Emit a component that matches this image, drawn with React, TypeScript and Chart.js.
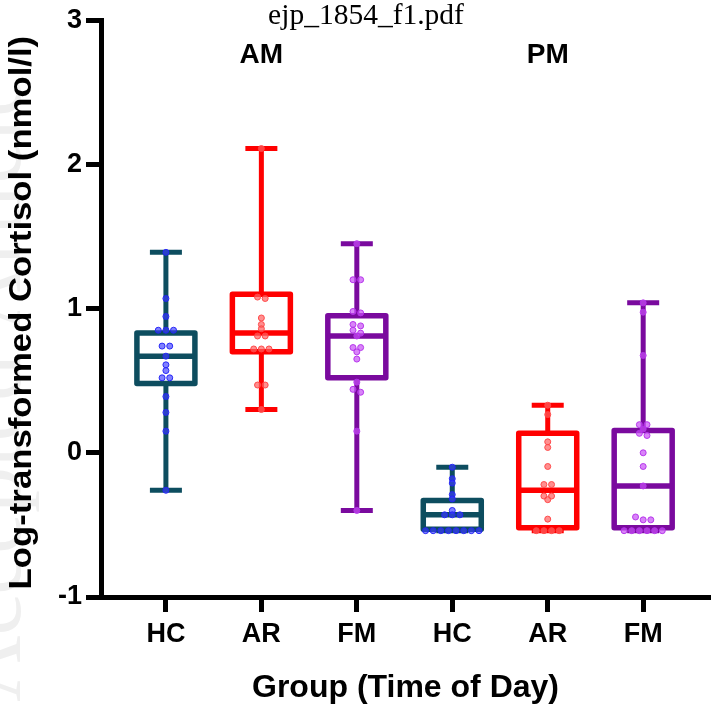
import { useEffect, useRef } from "react";
import { Chart, registerables } from "chart.js";

Chart.register(...registerables);

// ---- data ----
const groupLabels = ["HC", "AR", "FM", "HC", "AR", "FM"];
const timeLabels = ["AM", "PM"];
const yTickValues = [-1, 0, 1, 2, 3];

const whiskerMin = [-0.26, 0.3, -0.4, -0.54, -0.54, -0.54];
const quartile1 = [0.48, 0.7, 0.52, -0.53, -0.52, -0.52];
const medians = [0.67, 0.83, 0.81, -0.43, -0.26, -0.23];
const quartile3 = [0.83, 1.1, 0.95, -0.33, 0.135, 0.155];
const whiskerMax = [1.39, 2.11, 1.45, -0.1, 0.33, 1.04];

const amHC = [1.39, 1.07, 0.945, 0.85, 0.85, 0.85, 0.74, 0.74, 0.67, 0.61, 0.57, 0.52, 0.52, 0.39, 0.28, 0.15, -0.26];
const amAR = [2.11, 1.08, 1.07, 0.935, 0.89, 0.86, 0.81, 0.81, 0.72, 0.72, 0.72, 0.47, 0.47, 0.3];
const amFM = [1.45, 1.2, 1.2, 0.98, 0.97, 0.89, 0.88, 0.85, 0.83, 0.81, 0.73, 0.73, 0.7, 0.65, 0.49, 0.44, 0.42, 0.15, -0.4];
const pmHC = [-0.1, -0.18, -0.21, -0.29, -0.32, -0.4, -0.43, -0.43, -0.43, -0.54, -0.54, -0.54, -0.54, -0.54, -0.54, -0.54, -0.54];
const pmAR = [0.33, 0.265, 0.076, 0.037, -0.095, -0.22, -0.22, -0.3, -0.3, -0.325, -0.46, -0.54, -0.54, -0.54, -0.54];
const pmFM = [1.04, 0.975, 0.675, 0.195, 0.195, 0.165, 0.135, 0.12, 0.0, -0.095, -0.23, -0.445, -0.465, -0.465, -0.54, -0.54, -0.54, -0.54, -0.54, -0.54];

const groupPoints = [amHC, amAR, amFM, pmHC, pmAR, pmFM];

// ---- styles ----
const lineColors = ["#0d4d5f", "#ff0000", "#7a0a9e", "#0d4d5f", "#ff0000", "#7a0a9e"];
const dotFill = ["rgba(60,60,255,0.65)", "rgba(255,95,95,0.7)", "rgba(200,80,245,0.7)", "rgba(60,60,255,0.65)", "rgba(255,95,95,0.7)", "rgba(200,80,245,0.7)"];
const dotStroke = ["rgba(35,35,245,0.95)", "rgba(255,70,70,0.95)", "rgba(180,50,235,0.95)", "rgba(35,35,245,0.95)", "rgba(255,70,70,0.95)", "rgba(180,50,235,0.95)"];
const SANS = '"Liberation Sans", Arial, Helvetica, sans-serif';

// spread tied values horizontally (beeswarm-like), in axis units
function swarm(vals: number[], center: number) {
  const sorted = [...vals].sort((a, b) => b - a);
  const out: { x: number; y: number }[] = [];
  let i = 0;
  while (i < sorted.length) {
    let j = i;
    while (j + 1 < sorted.length && sorted[i] - sorted[j + 1] < 0.025) j++;
    const n = j - i + 1;
    for (let k = 0; k < n; k++) {
      out.push({ x: center + (k - (n - 1) / 2) * 0.08, y: sorted[i + k] });
    }
    i = j + 1;
  }
  return out;
}

const boxPlugin = {
  id: "boxes",
  beforeDatasetsDraw(chart: any) {
    const { ctx, scales } = chart;
    const x = scales.x;
    const y = scales.y;
    ctx.save();
    for (let i = 0; i < groupLabels.length; i++) {
      const cx = x.getPixelForValue(i + 1);
      const hw = 29;
      const cw = 16;
      const pMin = y.getPixelForValue(whiskerMin[i]);
      const pMax = y.getPixelForValue(whiskerMax[i]);
      const pQ1 = y.getPixelForValue(quartile1[i]);
      const pQ3 = y.getPixelForValue(quartile3[i]);
      const pMed = y.getPixelForValue(medians[i]);
      ctx.strokeStyle = lineColors[i];
      ctx.lineCap = "butt";
      ctx.lineWidth = 5;
      ctx.beginPath();
      ctx.moveTo(cx, pQ3);
      ctx.lineTo(cx, pMax);
      ctx.moveTo(cx, pQ1);
      ctx.lineTo(cx, pMin);
      ctx.stroke();
      ctx.beginPath();
      ctx.moveTo(cx - cw, pMax);
      ctx.lineTo(cx + cw, pMax);
      ctx.moveTo(cx - cw, pMin);
      ctx.lineTo(cx + cw, pMin);
      ctx.stroke();
      ctx.fillStyle = "#ffffff";
      ctx.fillRect(cx - hw, pQ3, hw * 2, pQ1 - pQ3);
      ctx.lineWidth = 5.5;
      ctx.lineJoin = "round";
      ctx.strokeRect(cx - hw, pQ3, hw * 2, pQ1 - pQ3);
      ctx.beginPath();
      ctx.moveTo(cx - hw, pMed);
      ctx.lineTo(cx + hw, pMed);
      ctx.stroke();
    }
    ctx.restore();
  },
};

const textPlugin = {
  id: "texts",
  beforeDraw(chart: any) {
    const { ctx } = chart;
    ctx.save();
    ctx.translate(20, 702);
    ctx.rotate(-Math.PI / 2);
    ctx.font = '92px "Liberation Serif", serif';
    ctx.fillStyle = "#efefef";
    ctx.textAlign = "left";
    ctx.textBaseline = "alphabetic";
    ctx.fillText("Accepted Article", 0, 0);
    ctx.restore();
  },
  afterDraw(chart: any) {
    const { ctx, scales, chartArea } = chart;
    const x = scales.x;
    ctx.save();
    ctx.fillStyle = "#000000";
    ctx.textAlign = "center";
    ctx.textBaseline = "alphabetic";
    ctx.font = '29.5px "Liberation Serif", serif';
    ctx.fillText("ejp_1854_f1.pdf", 366, 24);

    ctx.textBaseline = "middle";
    ctx.font = `bold 28px ${SANS}`;
    ctx.fillText(timeLabels[0], x.getPixelForValue(2), 55);
    ctx.fillText(timeLabels[1], x.getPixelForValue(5), 55);

    ctx.font = `bold 32px ${SANS}`;
    ctx.fillText("Group (Time of Day)", (chartArea.left + chartArea.right) / 2, 688);

    ctx.translate(22, (chartArea.top + chartArea.bottom) / 2 + 4);
    ctx.rotate(-Math.PI / 2);
    ctx.scale(1.085, 1);
    ctx.font = `bold 32px ${SANS}`;
    ctx.fillText("Log-transformed Cortisol (nmol/l)", 0, 0);
    ctx.restore();
  },
};

export default function App() {
  const ref = useRef<HTMLCanvasElement>(null);
  useEffect(() => {
    if (!ref.current) return;
    const datasets = groupPoints.map((pts, i) => ({
      type: "scatter" as const,
      data: swarm(pts, i + 1),
      pointRadius: 3,
      pointHoverRadius: 3,
      pointBackgroundColor: dotFill[i],
      pointBorderColor: dotStroke[i],
      pointBorderWidth: 1,
      showLine: false,
      clip: false as any,
    }));
    const tickFont = { family: SANS, size: 27, weight: "bold" as const };
    const chart = new Chart(ref.current, {
      type: "scatter",
      data: { datasets },
      plugins: [boxPlugin, textPlugin],
      options: {
        animation: false,
        responsive: false,
        layout: { padding: { top: 20, left: 0, right: 0, bottom: 0 } },
        plugins: { legend: { display: false }, tooltip: { enabled: false }, title: { display: false } },
        scales: {
          x: {
            type: "linear",
            min: 0.32,
            max: 6.7,
            afterBuildTicks: (s: any) => {
              s.ticks = groupLabels.map((_, i) => ({ value: i + 1 }));
            },
            afterFit: (s: any) => {
              s.height = 107;
            },
            ticks: {
              callback: (v: any) => groupLabels[Number(v) - 1] ?? "",
              font: tickFont,
              color: "#000000",
              padding: 6,
              maxRotation: 0,
              autoSkip: false,
            },
            grid: {
              display: true,
              drawOnChartArea: false,
              drawTicks: true,
              tickLength: 15,
              tickWidth: 5,
              tickColor: "#000000",
              color: "#000000",
            },
            border: { display: true, color: "#000000", width: 5 },
          },
          y: {
            min: -1,
            max: 3,
            afterBuildTicks: (s: any) => {
              s.ticks = yTickValues.map((v) => ({ value: v }));
            },
            afterFit: (s: any) => {
              s.width = 101;
            },
            ticks: { font: tickFont, color: "#000000", padding: 4 },
            grid: {
              display: true,
              drawOnChartArea: false,
              drawTicks: true,
              tickLength: 15,
              tickWidth: 5,
              tickColor: "#000000",
              color: "#000000",
            },
            border: { display: true, color: "#000000", width: 5 },
          },
        },
      } as any,
    });
    return () => chart.destroy();
  }, []);
  return (
    <div style={{ position: "absolute", left: 0, top: 0, width: 714, height: 704, background: "#ffffff" }}>
      <canvas ref={ref} width={714} height={704} style={{ display: "block", width: 714, height: 704 }} />
    </div>
  );
}
